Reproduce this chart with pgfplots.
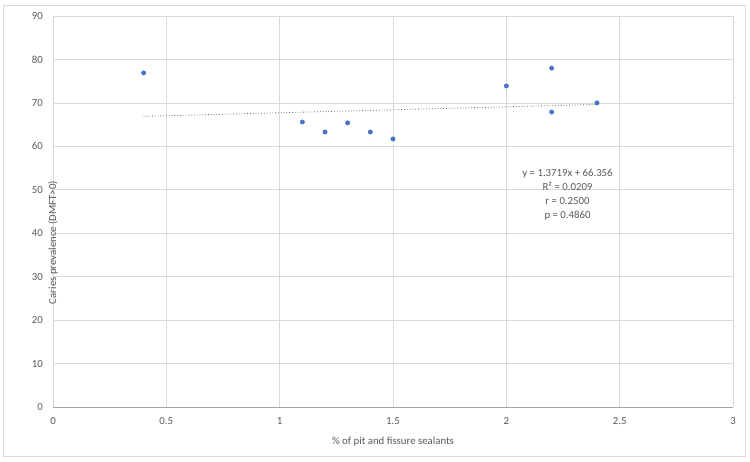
\documentclass[border=0pt]{standalone}
\usepackage{fontspec}
\setmainfont{Carlito}
\usepackage{pgfplots}
\pgfplotsset{compat=1.18}
\definecolor{txtc}{HTML}{595959}
\definecolor{gridc}{HTML}{D9D9D9}
\definecolor{markc}{HTML}{4472C4}
\begin{document}
\begin{tikzpicture}[x=1pt,y=1pt]
\path (0,0) rectangle (750,461);
\draw[gridc, line width=0.8pt] (3,5) rectangle (745,456);
\begin{axis}[
  at={(53pt,54pt)}, anchor=south west,
  scale only axis, width=680pt, height=391pt,
  xmin=0, xmax=3, ymin=0, ymax=90,
  xtick={0,0.5,...,3}, ytick={0,10,...,90},
  xticklabels={0,0.5,1,1.5,2,2.5,3},
  xmajorgrids, ymajorgrids,
  grid style={draw=gridc, line width=0.6pt},
  axis x line*=bottom, axis y line*=left,
  x axis line style={draw=gridc!75!black, line width=0.7pt, -},
  y axis line style={draw=none, -},
  major tick length=0pt,
  /pgf/number format/assume math mode=true,
  ticklabel style={font=\fontsize{10.8}{13}\selectfont, text=txtc},
  yticklabel style={anchor=east, inner sep=0pt, xshift=-10pt},
  xticklabel style={anchor=north, inner sep=0pt, yshift=-10pt},
  xlabel={\% of pit and fissure sealants},
  ylabel={Caries prevalence (DMFT>0)},
  label style={font=\fontsize{10.8}{13}\selectfont, text=txtc},
  xlabel style={at={(axis description cs:0.5,0)}, anchor=center, yshift=-35pt},
  ylabel style={at={(axis description cs:0,0.5)}, anchor=center, xshift=-31pt},
  clip=false,
]
\addplot[only marks, mark=*, mark size=2.2pt, mark options={fill=markc, draw=markc}]
coordinates {
(0.4,76.9) (1.1,65.6) (1.2,63.3) (1.3,65.4) (1.4,63.3) (1.5,61.7)
(2.0,73.9) (2.2,78.0) (2.2,67.9) (2.4,70.0)
};
\addplot[gray!80!black, line width=0.8pt, dotted] coordinates {
(0.4,66.905) (2.4,69.649)
};
\node[align=center, font=\fontsize{10.8}{14}\selectfont, text=txtc] at (axis cs:2.27,48.8)
{y = 1.3719x + 66.356\\R² = 0.0209\\r = 0.2500\\p = 0.4860};
\end{axis}
\end{tikzpicture}
\end{document}
